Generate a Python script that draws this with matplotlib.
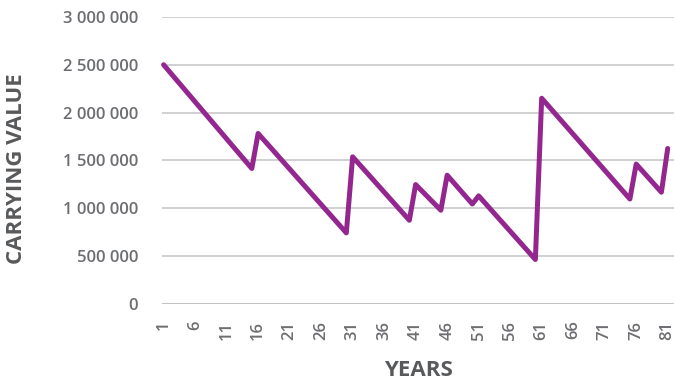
import matplotlib
matplotlib.use("Agg")
import matplotlib.pyplot as plt
from matplotlib.ticker import FuncFormatter

plt.rcParams['font.family'] = ['Open Sans', 'DejaVu Sans']

# vertices of the carrying value line (year, value)
years = [1, 15, 16, 30, 31, 40, 41, 45, 46, 50, 51, 60, 61, 75, 76, 80, 81]
values = [2500000, 1416000, 1782000, 743000, 1538000, 875000, 1248000, 980000,
          1346000, 1045000, 1130000, 465000, 2150000, 1097000, 1462000, 1168000, 1625000]

x_ticks = list(range(1, 82, 5))
y_ticks = [0, 500000, 1000000, 1500000, 2000000, 2500000, 3000000]

fig = plt.figure(figsize=(6.75, 3.83), dpi=100)
ax = fig.add_axes([161.7 / 675, 1 - 304 / 383, (674 - 161.7) / 675, (304 - 16.9) / 383])

for y in y_ticks:
    ax.axhline(y, color='#bdbdc0' if y == 0 else '#cdcdcf', lw=1.3, zorder=1)

ax.plot(years, values, color='#93278f', lw=3.6, solid_joinstyle='round',
        solid_capstyle='round', zorder=3, clip_on=False)

# one empty category after the last year, as in the original
ax.set_xlim(0.7, 82)
ax.set_ylim(0, 3000000)
ax.set_xticks(x_ticks)
ax.set_yticks(y_ticks)
ax.yaxis.set_major_formatter(FuncFormatter(lambda v, p: f"{v:,.0f}".replace(",", " ")))

for s in ax.spines.values():
    s.set_visible(False)
ax.tick_params(axis='both', length=0, colors='#6d6e71', labelsize=12)
ax.tick_params(axis='y', pad=17)
ax.tick_params(axis='x', pad=12, labelrotation=90)
for lab in ax.get_xticklabels() + ax.get_yticklabels():
    lab.set_fontweight('semibold')

fig.text(17 / 675, 1 - 169 / 383, 'CARRYING VALUE', rotation=90, ha='center', va='center',
         fontsize=16, fontweight='bold', color='#58595b')
fig.text(418 / 675, 1 - 371 / 383, 'YEARS', ha='center', va='center',
         fontsize=16, fontweight='bold', color='#58595b')

fig.savefig('out.png', dpi=100)
